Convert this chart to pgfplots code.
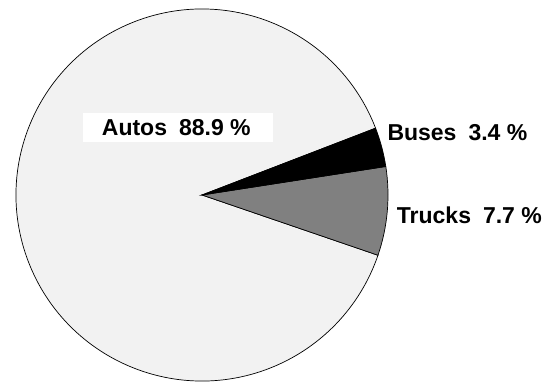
\documentclass[border=0pt]{standalone}
\usepackage{pgfplots}
\pgfplotsset{compat=1.18}
\usepackage{pgfplotstable}
\usepackage{fontspec}
\setmainfont{Liberation Sans}
\definecolor{autofill}{HTML}{F2F2F2}
\definecolor{truckfill}{HTML}{808080}
\begin{document}
\begin{tikzpicture}
% shares in percent
\pgfmathsetmacro\vTrucks{7.7}
\pgfmathsetmacro\vBuses{3.4}
\pgfmathsetmacro\vAutos{88.9}
\pgfmathsetmacro\aA{-18.9}
\pgfmathsetmacro\aB{\aA+\vTrucks*3.6}
\pgfmathsetmacro\aC{\aB+\vBuses*3.6}
\pgfmathsetmacro\aD{\aC+\vAutos*3.6}
\begin{axis}[
  hide axis,
  x=1bp, y=1bp,
  xmin=-202, xmax=354,
  ymin=-187, ymax=195,
  clip=false,
]
\filldraw[fill=autofill, draw=black, line width=0.7bp] (axis cs:0,0) -- ++(\aC:186bp) arc[start angle=\aC, end angle=\aD, radius=186bp] -- cycle;
\filldraw[fill=truckfill, draw=black, line width=0.7bp] (axis cs:0,0) -- ++(\aA:186bp) arc[start angle=\aA, end angle=\aB, radius=186bp] -- cycle;
\filldraw[fill=black, draw=black, line width=0.7bp] (axis cs:0,0) -- ++(\aB:186bp) arc[start angle=\aB, end angle=\aC, radius=186bp] -- cycle;
\fill[white] (axis cs:-118.7,53.3) rectangle (axis cs:70.7,82.5);
\node[anchor=base west, inner sep=0pt, font=\fontsize{23bp}{27bp}\selectfont\bfseries] at (axis cs:-100.3,59.3) {Autos\hspace{12bp}88.9 \%};
\node[anchor=base west, inner sep=0pt, font=\fontsize{23bp}{27bp}\selectfont\bfseries] at (axis cs:185.3,55) {Buses\hspace{12bp}3.4 \%};
\node[anchor=base west, inner sep=0pt, font=\fontsize{23bp}{27bp}\selectfont\bfseries] at (axis cs:194.7,-28.3) {Trucks\hspace{12bp}7.7 \%};
\end{axis}
\pgfresetboundingbox
\useasboundingbox (current axis.south west) rectangle (current axis.north east);
\end{tikzpicture}
\end{document}
